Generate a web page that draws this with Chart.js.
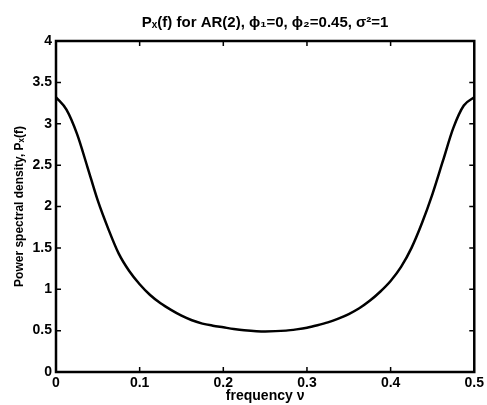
<!DOCTYPE html>
<html lang="en">
<head>
  <meta charset="UTF-8">
  <title>AR(2) power spectral density</title>
  <script src="https://cdn.jsdelivr.net/npm/chart.js"></script>
  <style>
    body { margin: 0; background: #fff; }
    .wrap { width: 487px; height: 405px; }
  </style>
</head>
<body>
  <div class="wrap">
    <canvas id="chart" width="487" height="405"></canvas>
  </div>

  <script>
    // values
    const freq = [0, 0.0125, 0.025, 0.0375, 0.05, 0.0625, 0.075, 0.0875, 0.1, 0.1125, 0.125, 0.1375,
                  0.15, 0.1625, 0.175, 0.1875, 0.2, 0.2125, 0.225, 0.25, 0.275, 0.2875, 0.3, 0.3125,
                  0.325, 0.3375, 0.35, 0.3625, 0.375, 0.3875, 0.4, 0.4125, 0.425, 0.4375, 0.45,
                  0.4625, 0.475, 0.4875, 0.5];
    const psd  = [3.32, 3.17, 2.88, 2.48, 2.07, 1.73, 1.43, 1.22, 1.06, 0.93, 0.83, 0.75,
                  0.68, 0.625, 0.585, 0.56, 0.54, 0.52, 0.505, 0.49, 0.50, 0.515, 0.535, 0.565,
                  0.60, 0.645, 0.70, 0.77, 0.86, 0.97, 1.10, 1.27, 1.50, 1.80, 2.15,
                  2.55, 2.95, 3.22, 3.32];

    const xTicks = [0, 0.1, 0.2, 0.3, 0.4, 0.5];
    const xTickLabels = ['0', '0.1', '0.2', '0.3', '0.4', '0.5'];
    const yTicks = [0, 0.5, 1, 1.5, 2, 2.5, 3, 3.5, 4];
    const yTickLabels = ['0', '0.5', '1', '1.5', '2', '2.5', '3', '3.5', '4'];

    const FONT = 'Liberation Sans, Arial, Helvetica, sans-serif';

    // matlab-ish box with inward ticks on all four sides
    const boxTicks = {
      id: 'boxTicks',
      afterDraw(chart) {
        const { ctx, chartArea: a, scales: { x, y } } = chart;
        const len = 5;
        ctx.save();
        ctx.strokeStyle = '#000';
        ctx.lineWidth = 1.5;
        ctx.beginPath();
        xTicks.forEach(v => {
          const px = x.getPixelForValue(v);
          ctx.moveTo(px, a.bottom); ctx.lineTo(px, a.bottom - len);
          ctx.moveTo(px, a.top); ctx.lineTo(px, a.top + len);
        });
        yTicks.forEach(v => {
          const py = y.getPixelForValue(v);
          ctx.moveTo(a.left, py); ctx.lineTo(a.left + len, py);
          ctx.moveTo(a.right, py); ctx.lineTo(a.right - len, py);
        });
        ctx.stroke();
        ctx.lineWidth = 2.5;
        ctx.strokeRect(a.left, a.top, a.right - a.left, a.bottom - a.top);
        ctx.restore();
      }
    };

    new Chart(document.getElementById('chart').getContext('2d'), {
      type: 'line',
      data: {
        datasets: [{
          data: freq.map((f, i) => ({ x: f, y: psd[i] })),
          borderColor: '#000',
          borderWidth: 2.5,
          pointRadius: 0,
          cubicInterpolationMode: 'monotone',
          fill: false
        }]
      },
      options: {
        responsive: false,
        animation: false,
        layout: { padding: { left: 0, right: 11, top: 0, bottom: 0 } },
        scales: {
          x: {
            type: 'linear',
            min: 0, max: 0.5,
            afterBuildTicks: s => { s.ticks = xTicks.map(v => ({ value: v })); },
            afterFit: s => { s.height = 33; },
            grid: { display: false, drawTicks: false },
            border: { display: false },
            ticks: {
              padding: 3,
              color: '#000',
              font: { family: FONT, size: 14, weight: 'bold' },
              callback: (v) => xTickLabels[xTicks.indexOf(v)]
            },
            title: {
              display: true,
              text: 'frequency ν',
              color: '#000',
              font: { family: FONT, size: 14, weight: 'bold' },
              padding: { top: 0, bottom: 0 }
            }
          },
          y: {
            min: 0, max: 4,
            afterBuildTicks: s => { s.ticks = yTicks.map(v => ({ value: v })); },
            afterFit: s => { s.width = 56; },
            grid: { display: false, drawTicks: false },
            border: { display: false },
            ticks: {
              padding: 4,
              color: '#000',
              font: { family: FONT, size: 14, weight: 'bold' },
              callback: (v) => yTickLabels[yTicks.indexOf(v)]
            },
            title: {
              display: true,
              text: 'Power spectral density, Pₓ(f)',
              color: '#000',
              font: { family: FONT, size: 12, weight: 'bold' },
              padding: { top: 12, bottom: 0 }
            }
          }
        },
        plugins: {
          legend: { display: false },
          tooltip: { enabled: false },
          title: {
            display: true,
            fullSize: false,
            text: 'Pₓ(f) for AR(2), ϕ₁=0, ϕ₂=0.45, σ²=1',
            color: '#000',
            font: { family: FONT, size: 15, weight: 'bold' },
            padding: { top: 14, bottom: 9 }
          }
        }
      },
      plugins: [boxTicks]
    });
  </script>
</body>
</html>
